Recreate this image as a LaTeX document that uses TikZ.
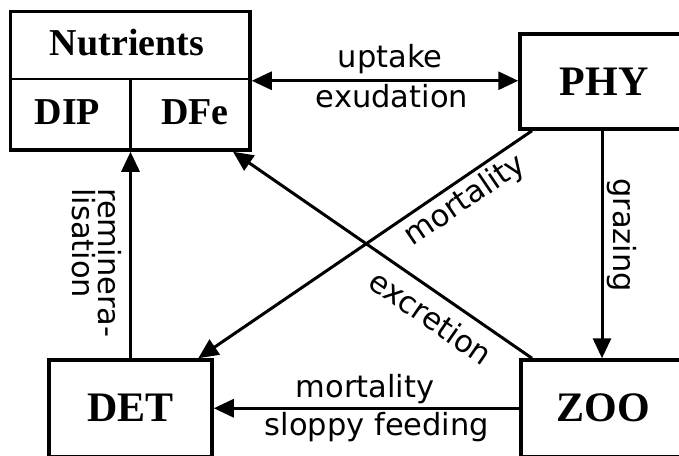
\documentclass[tikz,border=0pt]{standalone}
\usepackage{fontspec}
\setmainfont{Liberation Serif}
\newfontfamily\labfont{DejaVu Sans}
\usetikzlibrary{arrows.meta}
\begin{document}
\begin{tikzpicture}[x=1pt,y=-1pt,
  box/.style={draw, line width=3.5pt, inner sep=0pt},
  bigl/.style={font=\fontsize{42}{42}\selectfont\bfseries},
  nutl/.style={font=\fontsize{38}{38}\selectfont\bfseries, inner sep=0pt},
  lab/.style={font=\labfont\fontsize{30.5}{30.5}\selectfont, inner sep=0pt},
  arr/.style={line width=3pt, -{Triangle[length=20pt,width=18pt]}},
  darr/.style={line width=3pt, {Triangle[length=20pt,width=18pt]}-{Triangle[length=20pt,width=18pt]}},
  div/.style={line width=2.5pt}]
\useasboundingbox (0,0) rectangle (679,455);
\clip (0,0) rectangle (679,455);
% nutrients box
\node[box, minimum width=239.5pt, minimum height=138.5pt] (nut) at (130.25,80.75) {};
\coordinate (hd) at (0,79);
\draw[div] (nut.west |- hd) -- (nut.east |- hd);
\draw[div] (nut.south |- hd) -- (nut.south);
\node[nutl, anchor=base] (nuttitle) at (127,55) {Nutrients};
\node[nutl, anchor=base] (dip) at (67.5,124) {DIP};
\node[nutl, anchor=base] (dfe) at (195,124) {DFe};
% other boxes
\node[box, bigl, minimum width=168pt, minimum height=95pt] (phy) at (604,81.5) {PHY};
\node[box, bigl, minimum width=164pt, minimum height=96.5pt] (zoo) at (603,408.25) {ZOO};
\node[box, bigl, minimum width=163pt, minimum height=96.5pt] (det) at (130.5,408.25) {DET};
% connectors
\coordinate (gx) at (602,0);
\draw[darr] (nut.east) -- (nut.east -| phy.west);
\draw[arr] (det.north) -- (det.north |- nut.south);
\draw[arr] (phy.south -| gx) -- (zoo.north -| gx);
\draw[arr] ([xshift=13.75pt]phy.south west) -- ([xshift=151pt]det.north west);
\draw[arr] ([xshift=12.75pt]zoo.north west) -- ([xshift=-18.75pt]nut.south east);
\draw[arr] (zoo.west |- det.east) -- (det.east);
% labels
\node[lab, anchor=base] (lup) at (390,67) {uptake};
\node[lab, anchor=base] (lex) at (392,107) {exudation};
\node[lab, anchor=base] (lmo) at (365,397) {mortality};
\node[lab, anchor=base] (lsf) at (377,435) {sloppy feeding};
\node[lab, rotate=-90, anchor=base west] (lgr) at (613,178) {grazing};
\node[lab, rotate=-90, anchor=base west] (lre1) at (98,188) {reminera-};
\node[lab, rotate=-90, anchor=base west] (lre2) at (72,188) {lisation};
\node[lab, rotate=34.3] (lmd) at (465,201) {mortality};
\node[lab, rotate=-34.7] (lexc) at (431,317) {excretion};
\end{tikzpicture}
\end{document}
